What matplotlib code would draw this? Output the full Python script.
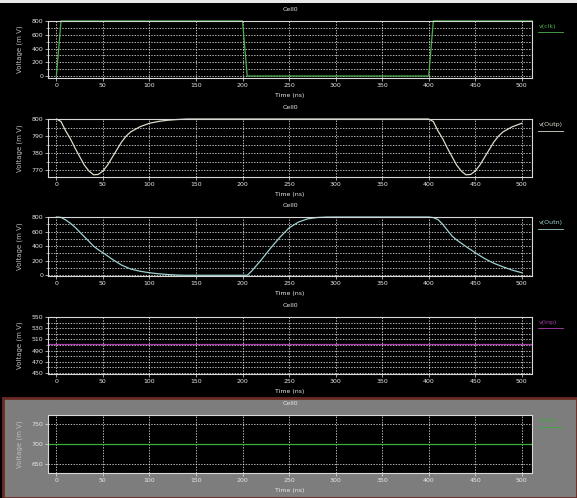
import matplotlib
matplotlib.use('Agg')
from matplotlib import pyplot as plt
from matplotlib.patches import Rectangle
from matplotlib.ticker import MultipleLocator
import numpy as np

# waveform data (time in ns, voltage in mV)
clk_t = [0, 5, 200, 205, 400, 405, 511]
clk_v = [0, 800, 800, 0, 0, 800, 800]

outp_t = [0, 5, 10, 15, 20, 25, 30, 35, 40, 45, 50, 55, 60, 65, 70, 75, 80, 90,
          100, 110, 120, 130, 140, 200, 300, 400, 405, 410, 415, 420, 425, 430,
          435, 440, 445, 450, 455, 460, 465, 470, 475, 480, 490, 500]
outp_v = [800, 798.5, 793, 788.5, 783, 778, 773, 769.5, 767.3, 767.5, 769.5,
          773, 777.5, 782, 786.5, 790, 792.5, 795.5, 797.5, 798.6, 799.3,
          799.7, 800, 800, 800, 800, 798.5, 793, 788.5, 783, 778, 773, 769.5,
          767.3, 767.5, 769.5, 773, 777.5, 782, 786.5, 790, 792.5, 795.5, 797.5]

outn_t = [0, 5, 10, 15, 20, 25, 30, 35, 40, 45, 50, 60, 70, 80, 90, 100, 110,
          120, 130, 140, 200, 205, 210, 220, 230, 240, 250, 260, 270, 280, 290,
          300, 400, 405, 410, 415, 420, 425, 430, 440, 450, 460, 470, 480, 490,
          500]
outn_v = [800, 795, 760, 715, 660, 595, 530, 465, 400, 350, 310, 220, 140, 85,
          55, 35, 20, 10, 3, 0, 0, 0, 60, 210, 370, 520, 650, 730, 775, 793,
          799, 800, 800, 792, 765, 700, 620, 540, 485, 395, 310, 230, 165, 115,
          70, 35]

inp_t = [-9, 511]
inp_v = [501, 501]

inn_t = [-9, 511]
inn_v = [700, 700]

# y tick labels per panel
clk_ticks = [0, 200, 400, 600, 800]
outp_ticks = [770, 780, 790, 800]
outn_ticks = [0, 200, 400, 600, 800]
inp_ticks = [450, 470, 490, 510, 530, 550]
inn_ticks = [650, 700, 750]

# panel settings: (label, colour, ylim, yticks, grid step, data)
panels = [
    ('v(clk)', '#4fb04f', (-29, 800), clk_ticks, 100, clk_t, clk_v),
    ('v(Outp)', '#dcdccc', (766, 800), outp_ticks, 5, outp_t, outp_v),
    ('v(Outn)', '#9fd2d2', (-10, 800), outn_ticks, 100, outn_t, outn_v),
    ('v(Inp)', '#b040b0', (448, 550), inp_ticks, 10, inp_t, inp_v),
    ('v(Inn)', '#3cae3c', (628, 772), inn_ticks, 50, inn_t, inn_v),
]

# axes boxes in pixels: top, bottom
boxes = [(21, 78), (119, 177), (217, 276), (317, 374), (415, 473)]

W, H = 577, 498
fig = plt.figure(figsize=(W / 100, H / 100), dpi=100, facecolor='black')

# gray frame around the last panel (selected window)
fig.patches.append(Rectangle((3 / W, 0), 1 - 3 / W, 100 / H,
                             transform=fig.transFigure, facecolor='#7d7d7d',
                             edgecolor='#6b2a24', linewidth=2, zorder=-5))
# white strip at the top edge
fig.patches.append(Rectangle((0, 1 - 3 / H), 1, 3 / H, transform=fig.transFigure,
                             facecolor='#e8e8e8', edgecolor='none', zorder=-5))

left, right = 48 / W, 532 / W
txt = '#e6e6e6'
for i, (name, col, ylim, yt, step, t, v) in enumerate(panels):
    top, bot = boxes[i]
    ax = fig.add_axes([left, 1 - bot / H, right - left, (bot - top) / H])
    ax.set_zorder(2)
    ax.set_facecolor('black')
    ax.plot(t, v, color=col, lw=0.9, clip_on=False)
    ax.set_xlim(-9, 511)
    ax.set_ylim(*ylim)
    ax.set_xticks(np.arange(0, 501, 50))
    ax.set_yticks(yt)
    ax.yaxis.set_minor_locator(MultipleLocator(step))
    ax.tick_params(colors=txt, labelsize=4.5, length=2, width=0.5, pad=1.5)
    ax.tick_params(which='minor', colors=txt, length=1.5, width=0.4)
    for s in ax.spines.values():
        s.set_color('#d8d8d8')
        s.set_linewidth(0.8)
    ax.grid(True, axis='x', color='white', ls=(0, (2, 2)), lw=0.5)
    ax.grid(True, axis='y', which='both', color='white', ls=(0, (2, 2)), lw=0.5)
    ax.set_title('Cell0', color=txt, fontsize=4.5, pad=7)
    ax.set_xlabel('Time (ns)', color=txt, fontsize=4.5, labelpad=4)
    ax.set_ylabel('Voltage (m V)', color='#bdbdbd', fontsize=5, labelpad=6)
    # signal name with underline, outside on the right
    ax.text(1.015, 0.9, name, color=col, fontsize=4.5, transform=ax.transAxes,
            va='center', ha='left')
    ax.plot([1.012, 1.065], [0.8, 0.8], color=col, lw=0.6,
            transform=ax.transAxes, clip_on=False)

plt.savefig('out.png', dpi=100, facecolor=fig.get_facecolor())
